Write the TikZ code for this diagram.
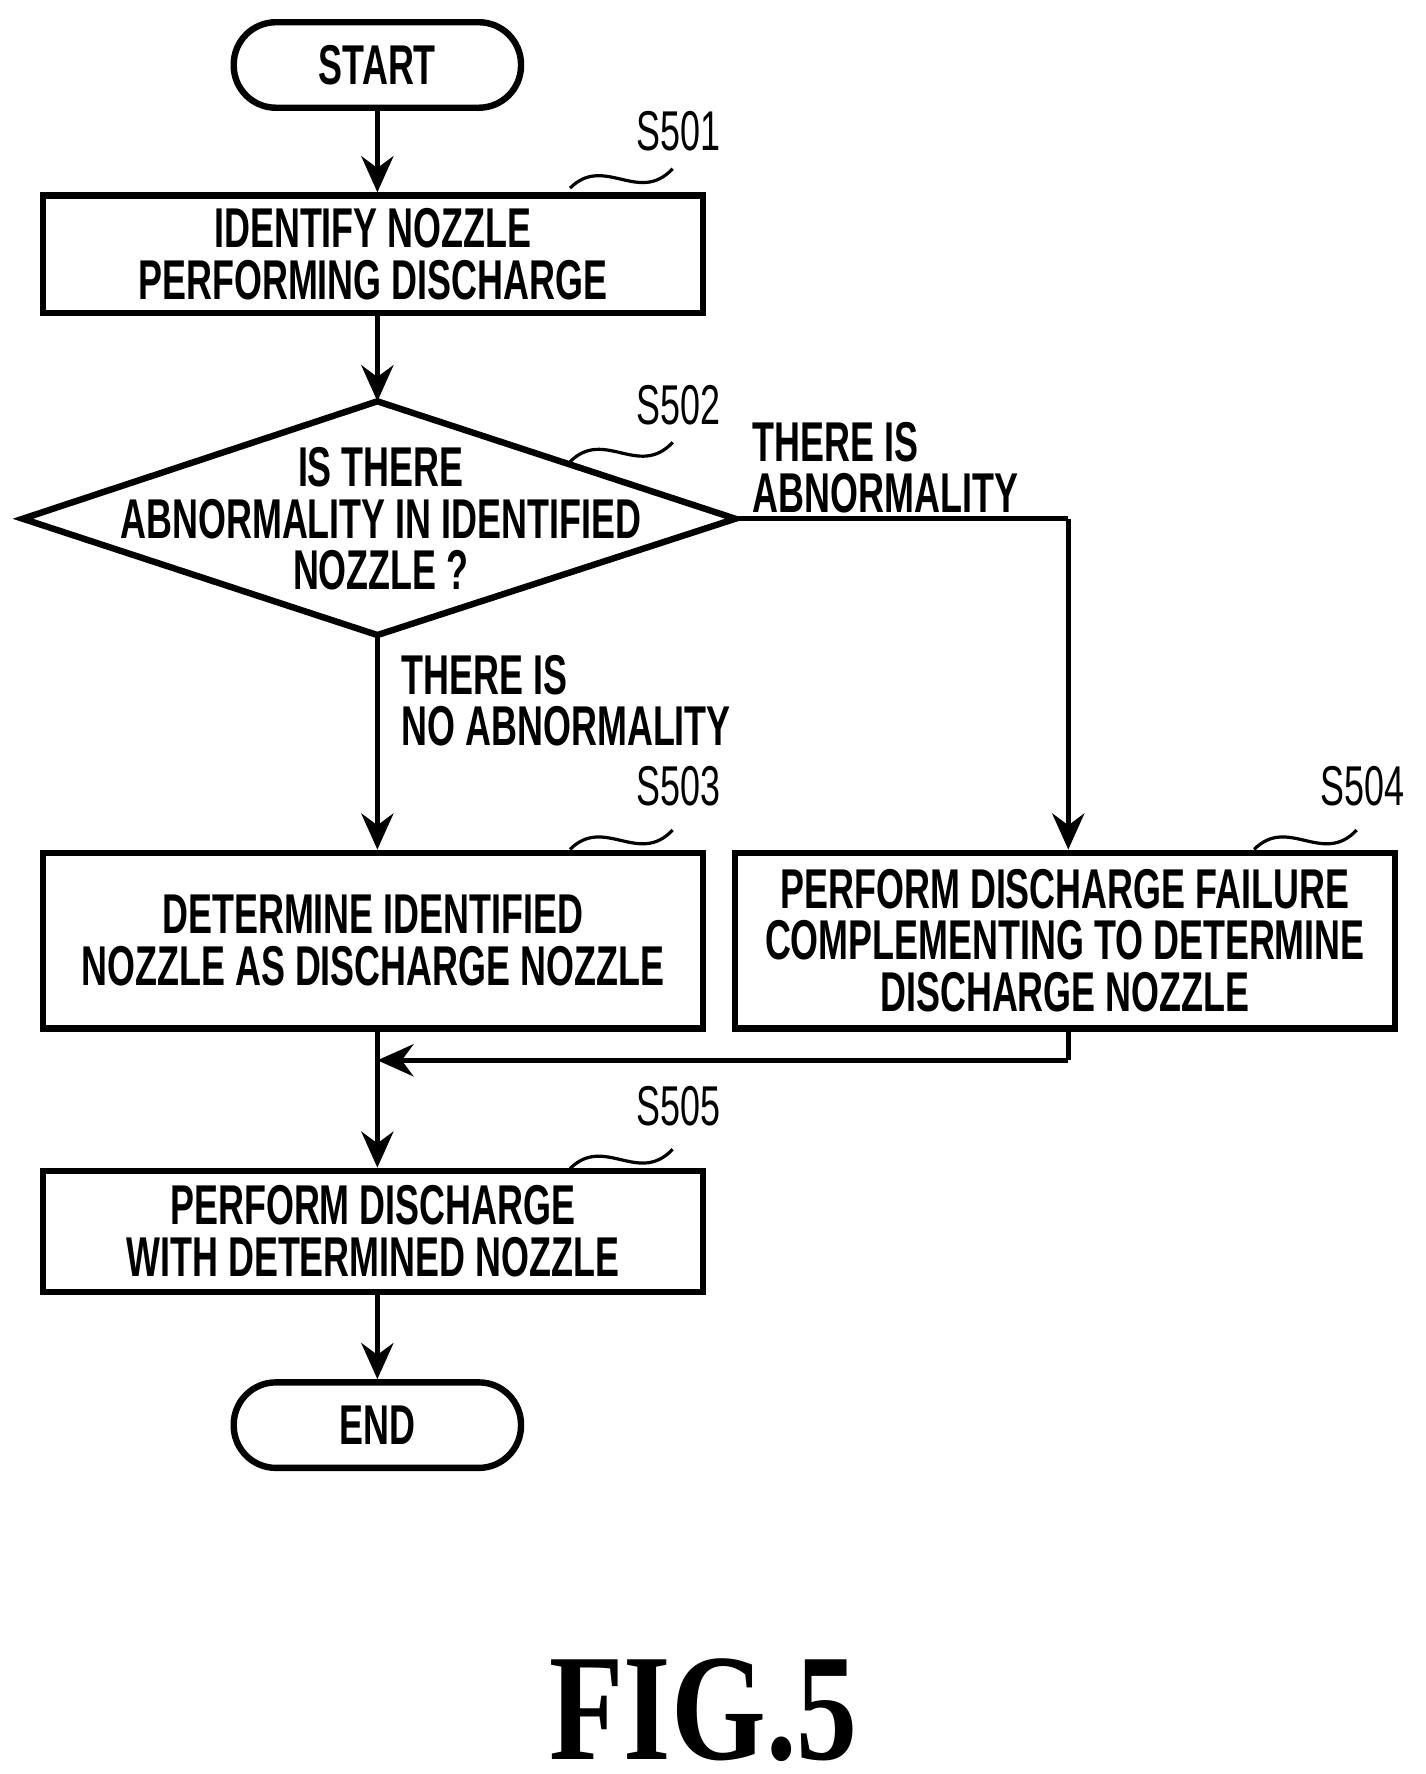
\documentclass[tikz,border=0pt]{standalone}
\usepackage{fontspec}
\setmainfont{Liberation Sans}[FakeStretch=0.64]
\newfontfamily\figfont{Liberation Serif}[FakeStretch=0.8]
\usetikzlibrary{shapes.geometric, arrows.meta}

\tikzset{
  box/.style={draw, line width=1.6pt, minimum width=5.79cm, inner sep=1pt, align=center,
              font=\bfseries\fontsize{14}{12.8}\selectfont},
  term/.style={draw, line width=1.6pt, rounded corners=0.37cm, minimum width=2.52cm,
              minimum height=0.75cm, font=\bfseries\fontsize{14}{12.8}\selectfont},
  stepno/.style={font=\fontsize{14}{14}\selectfont},
  lbl/.style={align=left, anchor=north west, font=\bfseries\fontsize{14}{12.8}\selectfont},
  flow/.style={line width=1.3pt, -{Stealth[length=9pt,width=8pt]}},
}

\begin{document}
\begin{tikzpicture}
  \useasboundingbox (0,0) rectangle (12.5,-15.56);

  \node[term] (start) at (3.31,-0.57) {START};
  \node[box, minimum height=1.03cm] (s501) at (3.27,-2.23) {IDENTIFY NOZZLE\\PERFORMING DISCHARGE};

  % decision diamond
  \coordinate (dt) at (3.31,-3.52);
  \coordinate (dr) at (6.45,-4.55);
  \coordinate (db) at (3.31,-5.57);
  \coordinate (dl) at (0.20,-4.55);
  \draw[line width=1.6pt] (dt) -- (dr) -- (db) -- (dl) -- cycle;
  \node[align=center, font=\bfseries\fontsize{14}{12.8}\selectfont]
        (s502) at (3.34,-4.55) {IS THERE\\ABNORMALITY IN IDENTIFIED\\NOZZLE ?};

  \node[box, minimum height=1.54cm] (s503) at (3.27,-8.25) {DETERMINE IDENTIFIED\\NOZZLE AS DISCHARGE NOZZLE};
  \node[box, minimum height=1.54cm] (s504) at (9.34,-8.25) {PERFORM DISCHARGE FAILURE\\COMPLEMENTING TO DETERMINE\\DISCHARGE NOZZLE};
  \node[box, minimum height=1.06cm] (s505) at (3.27,-10.80) {PERFORM DISCHARGE\\WITH DETERMINED NOZZLE};
  \node[term] (end) at (3.31,-12.50) {END};

  % step numbers
  \node[stepno] (n501) at (5.95,-1.15) {S501};
  \node[stepno] (n502) at (5.95,-3.55) {S502};
  \node[stepno] (n503) at (5.95,-6.90) {S503};
  \node[stepno] (n504) at (11.95,-6.90) {S504};
  \node[stepno] (n505) at (5.95,-9.70) {S505};
  \foreach \x/\y in {5.0/-1.65, 5.0/-4.05, 5.0/-7.45, 11.0/-7.45, 5.0/-10.25} {
    \draw[line width=0.8pt] (\x,\y) .. controls (\x+0.3,\y+0.3) and (\x+0.6,\y-0.15) .. (\x+0.9,\y+0.17);
  }

  \node[lbl] (yes) at (6.48,-3.58) {THERE IS\\ABNORMALITY};
  \node[lbl] (no) at (3.40,-5.62) {THERE IS\\NO ABNORMALITY};

  \coordinate (c1) at (9.37,-4.55);
  \coordinate (c2) at (9.37,-9.30);
  \coordinate (c3) at (3.31,-9.30);

  \draw[flow] (start) -- (s501.north -| start);
  \draw[flow] (s501.south -| start) -- (dt);
  \draw[flow] (db) -- (s503.north -| db);
  \draw[line width=1.3pt] (dr) -- (c1);
  \draw[flow] (c1) -- (s504.north -| c1);
  \draw[line width=1.3pt] (s504.south -| c1) -- (c2);
  \draw[flow] (c2) -- (c3);
  \draw[line width=1.3pt] (s503.south -| c3) -- (c3);
  \draw[flow] (c3) -- (s505.north -| c3);
  \draw[flow] (s505.south -| end) -- (end);

  \node[font=\figfont\bfseries\fontsize{38}{38}\selectfont] (fig) at (6.17,-15.0) {FIG.5};
\end{tikzpicture}
\end{document}
